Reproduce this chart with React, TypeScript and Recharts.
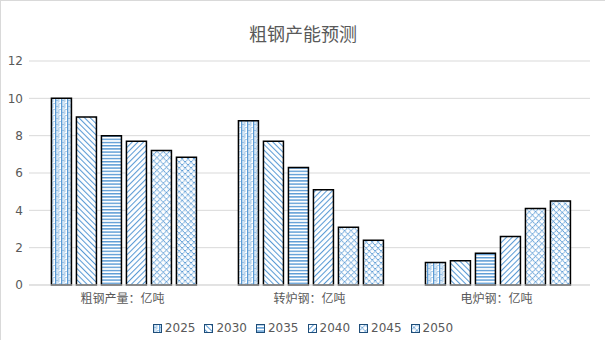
import { BarChart, Bar, XAxis, YAxis, CartesianGrid, Legend } from "recharts";

const categories = ["粗钢产量：亿吨", "转炉钢：亿吨", "电炉钢：亿吨"];
const years = ["2025", "2030", "2035", "2040", "2045", "2050"];

const s2025 = [10, 8.8, 1.2];
const s2030 = [9, 7.7, 1.3];
const s2035 = [8, 6.3, 1.7];
const s2040 = [7.7, 5.1, 2.6];
const s2045 = [7.2, 3.1, 4.1];
const s2050 = [6.85, 2.4, 4.5];

const yTicks = [0, 2, 4, 6, 8, 10, 12];

const seriesValues = [s2025, s2030, s2035, s2040, s2045, s2050];

const data = categories.map((name, i) => {
  const row: Record<string, string | number> = { name };
  years.forEach((y, j) => {
    row[y] = seriesValues[j][i];
  });
  return row;
});

const BLUE = "#5b9bd5";
const TEXT = "#595959";
const FONT = "'DejaVu Sans', 'Noto Sans CJK SC', sans-serif";

function Patterns() {
  return (
    <svg width={0} height={0} style={{ position: "absolute" }}>
      <defs>
        <pattern id="p2025" patternUnits="userSpaceOnUse" width={6} height={6}>
          <rect width={6} height={6} fill="#fff" />
          <rect x={0} y={0} width={1.4} height={6} fill={BLUE} />
          <rect x={2.5} y={0.5} width={1} height={1} fill={BLUE} />
          <rect x={3.5} y={1.5} width={1} height={1} fill={BLUE} />
          <rect x={2.5} y={2.5} width={1} height={1} fill={BLUE} />
          <rect x={3.5} y={3.5} width={1} height={1} fill={BLUE} />
          <rect x={2.5} y={4.5} width={1} height={1} fill={BLUE} />
          <rect x={1.5} y={3} width={1} height={1} fill={BLUE} />
          <rect x={4.5} y={0} width={1} height={1} fill={BLUE} />
        </pattern>
        <pattern id="p2030" patternUnits="userSpaceOnUse" width={4} height={4} patternTransform="rotate(-45)">
          <rect width={4} height={4} fill="#fff" />
          <line x1={0.5} y1={0} x2={0.5} y2={4} stroke={BLUE} strokeWidth={1.1} />
        </pattern>
        <pattern id="p2035" patternUnits="userSpaceOnUse" width={4} height={3.2}>
          <rect width={4} height={3.2} fill="#fff" />
          <rect x={0} y={0} width={4} height={1.4} fill={BLUE} />
        </pattern>
        <pattern id="p2040" patternUnits="userSpaceOnUse" width={4} height={4} patternTransform="rotate(45)">
          <rect width={4} height={4} fill="#fff" />
          <line x1={0.5} y1={0} x2={0.5} y2={4} stroke={BLUE} strokeWidth={1.1} />
        </pattern>
        <pattern id="p2045" patternUnits="userSpaceOnUse" width={4.5} height={4.5} patternTransform="rotate(45)">
          <rect width={4.5} height={4.5} fill="#fff" />
          <line x1={0.5} y1={0} x2={0.5} y2={4.5} stroke={BLUE} strokeWidth={1.1} strokeDasharray="1 0.6" />
          <line x1={0} y1={0.5} x2={4.5} y2={0.5} stroke={BLUE} strokeWidth={1.1} strokeDasharray="1 0.6" />
        </pattern>
        <pattern id="p2050" patternUnits="userSpaceOnUse" width={4.2} height={4.2} patternTransform="rotate(45)">
          <rect width={4.2} height={4.2} fill="#fff" />
          <line x1={0.5} y1={0} x2={0.5} y2={4.2} stroke={BLUE} strokeWidth={1} strokeDasharray="1 0.6" />
          <line x1={0} y1={0.5} x2={4.2} y2={0.5} stroke={BLUE} strokeWidth={1} strokeDasharray="1 0.6" />
        </pattern>
      </defs>
    </svg>
  );
}

function LegendContent() {
  return (
    <div style={{ display: "flex", justifyContent: "center", alignItems: "center", height: 18, fontFamily: FONT, fontSize: 12, color: TEXT }}>
      {years.map((y, i) => (
        <div key={y} style={{ display: "flex", alignItems: "center", marginLeft: i === 0 ? 0 : 9 }}>
          <svg width={9} height={9} style={{ marginRight: 3 }}>
            <rect x={0.5} y={0.5} width={8} height={8} fill={`url(#p${y})`} stroke="#1f4e79" strokeWidth={1} />
          </svg>
          <span>{y}</span>
        </div>
      ))}
    </div>
  );
}

export default function App() {
  return (
    <div
      style={{
        position: "absolute",
        left: 0,
        top: 0,
        width: 604,
        height: 339,
        borderTop: "1px solid #d9d9d9",
        borderLeft: "1px solid #d9d9d9",
        background: "#fff",
        fontFamily: FONT,
      }}
    >
      <Patterns />
      <div
        style={{
          position: "absolute",
          top: 19,
          left: 0,
          width: 604,
          textAlign: "center",
          fontSize: 18,
          color: TEXT,
          fontFamily: "'Noto Sans CJK SC', sans-serif",
        }}
      >
        粗钢产能预测
      </div>
      <BarChart
        width={604}
        height={339}
        data={data}
        margin={{ top: 60, right: 15, left: 0, bottom: 3 }}
        barCategoryGap="12%"
        barGap={5}
      >
        <CartesianGrid vertical={false} stroke="#d9d9d9" strokeDasharray="" />
        <XAxis
          dataKey="name"
          height={34}
          tickLine={false}
          tickSize={0}
          tickMargin={9}
          axisLine={{ stroke: "#d9d9d9" }}
          tick={{ fill: TEXT, fontSize: 12, fontFamily: "'Noto Sans CJK SC', sans-serif" }}
        />
        <YAxis
          width={28}
          domain={[0, 12]}
          ticks={yTicks}
          axisLine={false}
          tickLine={false}
          tickSize={0}
          tickMargin={6}
          tick={{ fill: TEXT, fontSize: 12, fontFamily: FONT }}
        />
        <Legend
          verticalAlign="bottom"
          height={18}
          wrapperStyle={{ left: 0, width: 604 }}
          content={() => <LegendContent />}
        />
        {years.map((y) => (
          <Bar
            key={y}
            dataKey={y}
            fill={`url(#p${y})`}
            stroke="#000"
            strokeWidth={1.5}
            isAnimationActive={false}
          />
        ))}
      </BarChart>
    </div>
  );
}
